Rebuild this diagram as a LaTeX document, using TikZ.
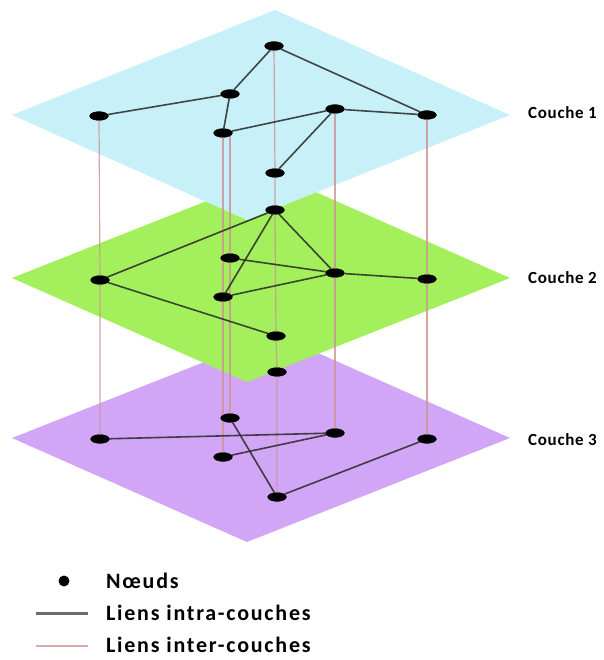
\documentclass[tikz,border=0pt]{standalone}
\usepackage{fontspec}
\setmainfont{Carlito}
\newfontfamily\lblfont[LetterSpace=4]{Carlito}
\newfontfamily\legfont[LetterSpace=8]{Carlito}
\usetikzlibrary{shapes.geometric,calc}
\definecolor{layerA}{RGB}{200,240,249}
\definecolor{layerB}{RGB}{164,240,92}
\definecolor{layerC}{RGB}{210,166,246}
\definecolor{interc}{RGB}{205,150,150}
\definecolor{intrac}{RGB}{40,40,40}
\begin{document}
\begin{tikzpicture}[x=1pt,y=-1pt,
  nd/.style={ellipse,fill=black,minimum width=19pt,minimum height=9pt,inner sep=0pt},
  intra/.style={draw=intrac,line width=1.6pt,opacity=0.85},
  inter/.style={draw=interc,line width=1.2pt,opacity=0.85},
  lbl/.style={anchor=west,font=\lblfont\bfseries\fontsize{17}{19}\selectfont,inner sep=0pt},
  leg/.style={anchor=west,font=\legfont\bfseries\fontsize{22}{25}\selectfont,inner sep=0pt}]
\useasboundingbox (0,0) rectangle (603,660);
% planes (bottom first)
\fill[layerC] (12,438) -- (275,334) -- (510,438) -- (247,542) -- cycle;
\fill[layerB] (12,278) -- (275,174) -- (510,278) -- (247,382) -- cycle;
\fill[layerA] (12,115) -- (275,10) -- (510,115) -- (247,220) -- cycle;
% layer 1 nodes
\node[nd] (T1) at (274,46) {};
\node[nd] (T2) at (230,94) {};
\node[nd] (T3) at (99,116) {};
\node[nd] (T4) at (335,109) {};
\node[nd] (T5) at (427,115) {};
\node[nd] (T6) at (223,133) {};
\node[nd] (T7) at (275,173) {};
% layer 2 nodes
\node[nd] (G1) at (275,210) {};
\node[nd] (G2) at (230,258) {};
\node[nd] (G3) at (100,280) {};
\node[nd] (G4) at (335,273) {};
\node[nd] (G5) at (427,279) {};
\node[nd] (G6) at (223,297) {};
\node[nd] (G7) at (276,336) {};
% layer 3 nodes
\node[nd] (P1) at (277,372) {};
\node[nd] (P2) at (230,418) {};
\node[nd] (P3) at (100,439) {};
\node[nd] (P4) at (335,433) {};
\node[nd] (P5) at (427,439) {};
\node[nd] (P6) at (223,457) {};
\node[nd] (P7) at (277,497) {};
% inter-layer links
\path[inter] (T3.center) -- (G3.center) -- (P3.center);
\path[inter] (G2 |- T6) -- (G2.center) -- (P2.center);
\path[inter] (T6.center) -- (G6.center) -- (P6.center);
\path[inter] (T1.center) -- (T7.center) -- (G1.center) -- (G7.center) -- (P1.center) -- (P7.center);
\path[inter] (T4.center) -- (G4.center) -- (P4.center);
\path[inter] (T5.center) -- (G5.center) -- (P5.center);
% intra-layer links
\path[intra] (T1) -- (T2);
\path[intra] (T1) -- (T5);
\path[intra] (T2) -- (T3);
\path[intra] (T2) -- (T6);
\path[intra] (T6) -- (T4);
\path[intra] (T4) -- (T5);
\path[intra] (T4) -- (T7);
\path[intra] (G1) -- (G3);
\path[intra] (G1) -- (G6);
\path[intra] (G1) -- (G4);
\path[intra] (G2) -- (G4);
\path[intra] (G6) -- (G4);
\path[intra] (G4) -- (G5);
\path[intra] (G3) -- (G7);
\path[intra] (P3) -- (P4);
\path[intra] (P6) -- (P4);
\path[intra] (P2) -- (P7);
\path[intra] (P7) -- (P5);
% redraw nodes on top
\foreach \n in {T1,T2,T3,T4,T5,T6,T7,G1,G2,G3,G4,G5,G6,G7,P1,P2,P3,P4,P5,P6,P7}
  \fill[black] (\n.center) ellipse (9.5pt and 4.5pt);
% layer labels
\node[lbl] (L1) at (528,113) {Couche 1};
\node[lbl] (L2) at (528,278) {Couche 2};
\node[lbl] (L3) at (528,440) {Couche 3};
% legend
\node[circle,fill=black,minimum size=11pt,inner sep=0pt] (LD) at (64,581) {};
\coordinate (LgA) at (36,613);
\coordinate (LgB) at (88,613);
\coordinate (LpA) at (36,646);
\coordinate (LpB) at (88,646);
\draw[draw=gray!85!black,line width=3pt] (LgA) -- (LgB);
\draw[draw=interc!80,line width=2pt] (LpA) -- (LpB);
\node[leg] (N1) at (106,581) {Nœuds};
\node[leg] (N2) at (106,613) {Liens intra-couches};
\node[leg] (N3) at (106,645) {Liens inter-couches};
\end{tikzpicture}
\end{document}
